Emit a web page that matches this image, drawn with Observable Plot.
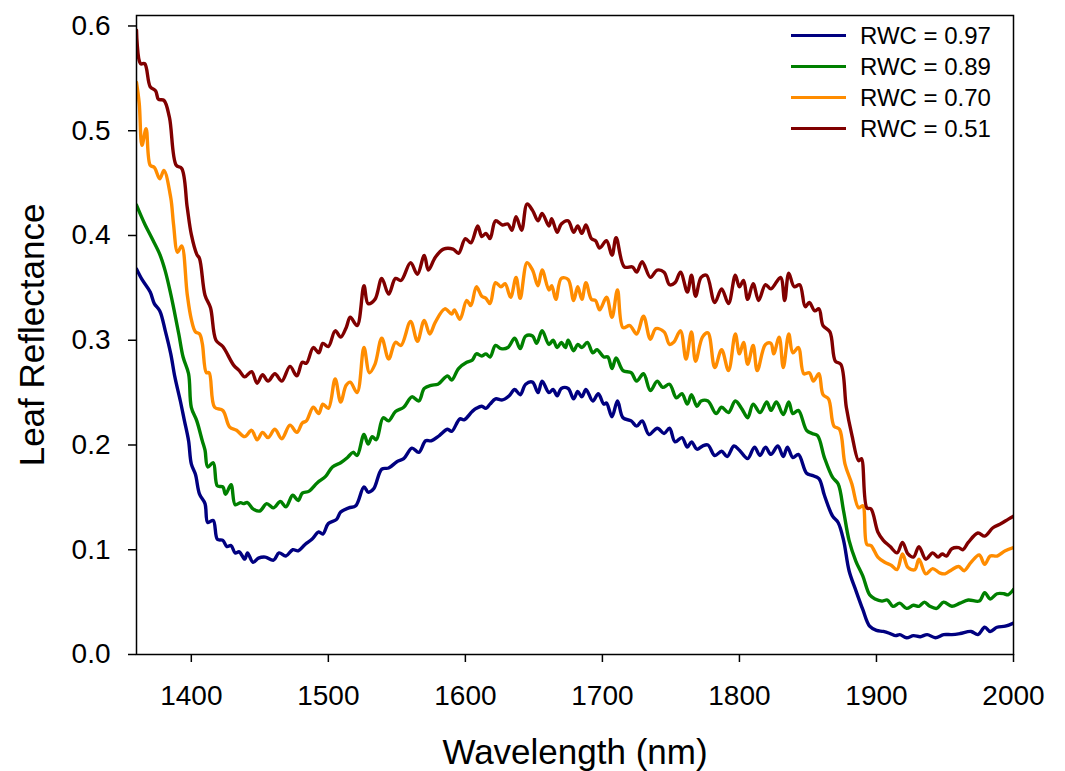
<!DOCTYPE html>
<html>
<head>
<meta charset="utf-8">
<script src="https://cdn.jsdelivr.net/npm/d3@7"></script>
<script src="https://cdn.jsdelivr.net/npm/@observablehq/plot@0.6"></script>
<style>
  html, body { margin: 0; padding: 0; background: #fff; overflow: hidden; }
  #wrap { position: relative; width: 1065px; height: 771px; }
  #legend { position: absolute; left: 791px; top: 20px; font-family: "Liberation Sans", Arial, sans-serif; font-size: 24px; color: #000; }
  .row { display: flex; align-items: center; height: 31px; }
  .sw { width: 55px; height: 3px; }
  .lab { margin-left: 14px; line-height: 1; }
</style>
</head>
<body>
<div id="wrap"><div id="chart"></div><div id="legend"></div></div>
<script>
// ---- data ----
const seriesNames = ["RWC = 0.97", "RWC = 0.89", "RWC = 0.70", "RWC = 0.51"];
const seriesColors = ["#000080", "#008000", "#ff8c00", "#800000"];
const xTicks = [1400, 1500, 1600, 1700, 1800, 1900, 2000];
const yTicks = [0, 0.1, 0.2, 0.3, 0.4, 0.5, 0.6];

const wl097 = [1360,1364,1370,1373,1377,1381,1385,1388,1392,1395,1398,1400,1403,1406,1410,1412,1416,1419,1423,1426,1429,1432,1435,1439,1441,1445,1449,1454,1460,1464,1469,1474,1478,1483,1488,1493,1496,1500,1506,1509,1515,1520,1526,1529,1533,1539,1544,1550,1555,1561,1566,1571,1575,1581,1587,1590,1596,1599,1605,1608,1612,1615,1618,1622,1627,1632,1636,1640,1644,1649,1653,1656,1661,1664,1667,1670,1675,1679,1682,1685,1688,1693,1697,1701,1703,1707,1711,1715,1721,1725,1729,1734,1740,1745,1749,1753,1758,1762,1765,1769,1773,1777,1782,1787,1791,1796,1800,1806,1811,1815,1819,1823,1828,1832,1835,1839,1843,1849,1853,1858,1862,1868,1872,1876,1880,1885,1890,1895,1900,1905,1910,1914,1917,1922,1927,1932,1937,1943,1949,1955,1961,1969,1974,1979,1983,1988,1994,2000];
const rf097 = [0.368,0.358,0.346,0.335,0.328,0.309,0.287,0.265,0.242,0.223,0.204,0.182,0.172,0.153,0.144,0.126,0.128,0.110,0.109,0.103,0.104,0.097,0.098,0.091,0.097,0.088,0.092,0.093,0.090,0.097,0.094,0.100,0.099,0.105,0.110,0.117,0.115,0.125,0.129,0.136,0.140,0.142,0.160,0.155,0.158,0.177,0.178,0.184,0.187,0.197,0.193,0.204,0.204,0.209,0.215,0.213,0.225,0.224,0.232,0.235,0.237,0.235,0.239,0.244,0.243,0.247,0.253,0.248,0.258,0.260,0.250,0.261,0.250,0.253,0.247,0.254,0.254,0.244,0.251,0.246,0.253,0.242,0.249,0.239,0.240,0.227,0.242,0.226,0.223,0.218,0.223,0.210,0.216,0.211,0.216,0.203,0.207,0.198,0.203,0.196,0.199,0.200,0.190,0.194,0.189,0.199,0.195,0.187,0.198,0.190,0.198,0.191,0.199,0.189,0.198,0.188,0.191,0.173,0.171,0.168,0.152,0.132,0.126,0.109,0.080,0.061,0.043,0.027,0.023,0.022,0.020,0.018,0.019,0.016,0.018,0.017,0.019,0.016,0.019,0.019,0.020,0.022,0.019,0.026,0.022,0.026,0.027,0.030];

const wl089 = [1360,1366,1371,1377,1381,1385,1388,1391,1394,1398,1400,1404,1408,1410,1412,1416,1419,1423,1425,1429,1432,1436,1438,1441,1445,1450,1455,1460,1465,1469,1474,1478,1481,1486,1492,1498,1503,1509,1514,1518,1521,1526,1529,1532,1535,1540,1544,1549,1555,1561,1566,1570,1575,1580,1587,1590,1595,1601,1605,1608,1612,1615,1618,1622,1626,1631,1636,1640,1644,1649,1652,1656,1661,1664,1667,1670,1673,1675,1679,1682,1685,1689,1693,1696,1701,1704,1707,1710,1715,1721,1725,1730,1735,1740,1744,1749,1754,1758,1762,1765,1769,1772,1777,1783,1787,1792,1797,1802,1806,1810,1815,1820,1823,1827,1832,1836,1839,1843,1849,1853,1857,1862,1868,1872,1876,1880,1885,1890,1895,1899,1904,1908,1912,1917,1922,1927,1931,1935,1939,1944,1949,1955,1961,1967,1975,1979,1983,1988,1993,1996,2000];
const rf089 = [0.429,0.411,0.398,0.382,0.366,0.344,0.325,0.305,0.284,0.268,0.236,0.223,0.204,0.195,0.179,0.183,0.161,0.160,0.153,0.162,0.143,0.145,0.144,0.145,0.139,0.137,0.144,0.140,0.146,0.141,0.152,0.147,0.154,0.156,0.164,0.170,0.179,0.183,0.188,0.193,0.190,0.210,0.201,0.208,0.205,0.226,0.223,0.232,0.236,0.246,0.242,0.254,0.257,0.258,0.266,0.262,0.273,0.279,0.281,0.287,0.285,0.287,0.284,0.295,0.292,0.293,0.302,0.292,0.304,0.304,0.297,0.309,0.296,0.300,0.293,0.298,0.293,0.300,0.290,0.296,0.293,0.298,0.288,0.291,0.284,0.284,0.273,0.283,0.271,0.269,0.261,0.268,0.252,0.261,0.255,0.258,0.245,0.249,0.239,0.248,0.237,0.242,0.242,0.230,0.236,0.231,0.242,0.234,0.226,0.239,0.231,0.241,0.233,0.241,0.229,0.241,0.230,0.233,0.214,0.211,0.209,0.188,0.169,0.163,0.137,0.109,0.089,0.075,0.057,0.053,0.051,0.052,0.046,0.049,0.044,0.047,0.046,0.050,0.046,0.044,0.050,0.046,0.049,0.052,0.051,0.059,0.053,0.058,0.058,0.057,0.062];

const wl070 = [1360,1362,1364,1367,1370,1373,1377,1380,1385,1387,1390,1393,1397,1400,1403,1406,1408,1411,1413,1417,1423,1428,1433,1439,1444,1448,1452,1456,1461,1466,1472,1477,1481,1484,1489,1493,1496,1500,1505,1509,1513,1516,1521,1526,1530,1534,1539,1544,1549,1553,1560,1565,1570,1574,1578,1585,1590,1592,1596,1601,1604,1608,1612,1615,1618,1622,1626,1629,1633,1637,1640,1645,1649,1653,1656,1661,1663,1666,1670,1675,1679,1682,1685,1688,1692,1695,1698,1703,1707,1711,1715,1720,1725,1730,1735,1739,1745,1749,1752,1757,1761,1765,1768,1773,1777,1782,1787,1792,1797,1800,1803,1806,1810,1813,1819,1823,1825,1829,1832,1836,1839,1843,1847,1851,1854,1858,1861,1865,1869,1873,1877,1882,1887,1890,1893,1896,1901,1906,1911,1915,1919,1923,1928,1931,1936,1941,1946,1950,1955,1960,1964,1969,1975,1979,1983,1988,1994,2000];
const rf070 = [0.546,0.526,0.486,0.502,0.467,0.465,0.454,0.462,0.436,0.411,0.384,0.390,0.344,0.320,0.308,0.306,0.297,0.269,0.269,0.236,0.233,0.217,0.214,0.208,0.214,0.205,0.212,0.207,0.215,0.206,0.219,0.212,0.221,0.223,0.236,0.230,0.239,0.235,0.263,0.241,0.257,0.260,0.250,0.293,0.269,0.277,0.302,0.282,0.298,0.295,0.318,0.299,0.319,0.306,0.317,0.330,0.325,0.329,0.320,0.338,0.333,0.351,0.342,0.340,0.335,0.355,0.351,0.354,0.341,0.360,0.340,0.374,0.367,0.352,0.367,0.348,0.352,0.339,0.359,0.358,0.338,0.351,0.339,0.355,0.339,0.338,0.329,0.341,0.322,0.348,0.312,0.314,0.306,0.323,0.301,0.311,0.308,0.296,0.298,0.309,0.282,0.308,0.280,0.303,0.307,0.274,0.291,0.271,0.306,0.287,0.298,0.277,0.295,0.271,0.296,0.297,0.287,0.303,0.274,0.306,0.288,0.293,0.268,0.269,0.261,0.268,0.248,0.244,0.218,0.215,0.182,0.163,0.140,0.142,0.105,0.104,0.093,0.088,0.085,0.081,0.096,0.083,0.081,0.091,0.077,0.082,0.078,0.077,0.081,0.084,0.080,0.088,0.095,0.086,0.094,0.094,0.099,0.102];

const wl051 = [1360,1363,1366,1370,1374,1376,1380,1384,1389,1393,1397,1400,1404,1406,1410,1414,1418,1423,1431,1435,1439,1444,1448,1452,1456,1461,1466,1472,1477,1481,1484,1489,1493,1496,1500,1505,1509,1513,1516,1521,1526,1529,1534,1539,1544,1549,1553,1560,1565,1570,1573,1578,1584,1591,1595,1600,1604,1609,1612,1615,1618,1622,1627,1631,1634,1637,1641,1645,1649,1653,1656,1661,1663,1667,1670,1675,1679,1682,1685,1688,1692,1695,1698,1703,1707,1710,1716,1722,1725,1729,1735,1740,1745,1749,1753,1757,1762,1765,1768,1772,1776,1782,1787,1792,1797,1800,1803,1806,1810,1814,1819,1823,1830,1833,1836,1840,1844,1848,1851,1855,1858,1861,1866,1870,1874,1878,1882,1887,1889,1893,1896,1901,1905,1910,1915,1919,1923,1927,1931,1936,1941,1945,1948,1951,1955,1960,1963,1967,1974,1979,1985,1991,1996,2000];
const rf051 = [0.596,0.564,0.564,0.542,0.538,0.530,0.529,0.513,0.467,0.464,0.427,0.401,0.382,0.378,0.343,0.331,0.300,0.294,0.276,0.271,0.265,0.270,0.259,0.267,0.261,0.268,0.261,0.275,0.266,0.279,0.278,0.293,0.288,0.297,0.294,0.309,0.303,0.312,0.322,0.314,0.352,0.335,0.339,0.359,0.344,0.359,0.357,0.374,0.363,0.381,0.367,0.379,0.387,0.387,0.383,0.397,0.393,0.409,0.399,0.402,0.397,0.414,0.410,0.411,0.405,0.418,0.405,0.430,0.424,0.414,0.421,0.409,0.416,0.403,0.411,0.414,0.403,0.409,0.402,0.410,0.397,0.395,0.388,0.395,0.381,0.398,0.370,0.370,0.365,0.375,0.360,0.367,0.365,0.353,0.355,0.365,0.346,0.362,0.342,0.360,0.362,0.336,0.349,0.335,0.362,0.351,0.357,0.339,0.354,0.338,0.353,0.349,0.360,0.338,0.364,0.351,0.353,0.332,0.336,0.328,0.330,0.314,0.308,0.280,0.277,0.236,0.210,0.185,0.187,0.140,0.139,0.117,0.109,0.103,0.097,0.107,0.096,0.093,0.103,0.091,0.097,0.093,0.096,0.094,0.101,0.102,0.100,0.107,0.116,0.113,0.121,0.125,0.129,0.132];

const wlAll = [wl097, wl089, wl070, wl051];
const rfAll = [rf097, rf089, rf070, rf051];

// ---- build rows ----
const rows = [];
seriesNames.forEach((name, k) => {
  wlAll[k].forEach((w, i) => rows.push({series: name, wl: w, r: rfAll[k][i]}));
});

const font = "'Liberation Sans', Arial, Helvetica, sans-serif";

const chart = Plot.plot({
  width: 1065,
  height: 771,
  marginLeft: 136,
  marginRight: 52,
  marginTop: 15,
  marginBottom: 117,
  style: {fontFamily: font, background: "#fff", color: "#000", overflow: "visible"},
  x: {domain: [1360, 2000]},
  y: {domain: [0, 0.61]},
  color: {domain: seriesNames, range: seriesColors},
  marks: [
    Plot.axisX({ticks: xTicks, tickSize: 8, tickPadding: 23, fontSize: 28, strokeWidth: 1.5, tickFormat: d => String(d), label: null}),
    Plot.axisY({ticks: yTicks, tickSize: 8, tickPadding: 18, fontSize: 28, strokeWidth: 1.5, tickFormat: d3.format(".1f"), label: null}),
    Plot.line(rows, {x: "wl", y: "r", z: "series", stroke: "series", strokeWidth: 3.4, curve: "catmull-rom", clip: true}),
    Plot.frame({stroke: "#000", strokeWidth: 1.5}),
    Plot.text(["Wavelength (nm)"], {frameAnchor: "bottom", dy: 109, lineAnchor: "bottom", textAnchor: "middle", fontSize: 35, fill: "#000"}),
    Plot.text(["Leaf Reflectance"], {frameAnchor: "left", dx: -93, rotate: -90, lineAnchor: "bottom", textAnchor: "middle", fontSize: 35, fill: "#000"})
  ]
});
document.getElementById("chart").appendChild(chart);

// ---- legend ----
const legend = document.getElementById("legend");
seriesNames.forEach((name, k) => {
  const row = document.createElement("div");
  row.className = "row";
  const sw = document.createElement("div");
  sw.className = "sw";
  sw.style.background = seriesColors[k];
  const lab = document.createElement("span");
  lab.className = "lab";
  lab.textContent = name;
  row.appendChild(sw);
  row.appendChild(lab);
  legend.appendChild(row);
});
</script>
</body>
</html>
